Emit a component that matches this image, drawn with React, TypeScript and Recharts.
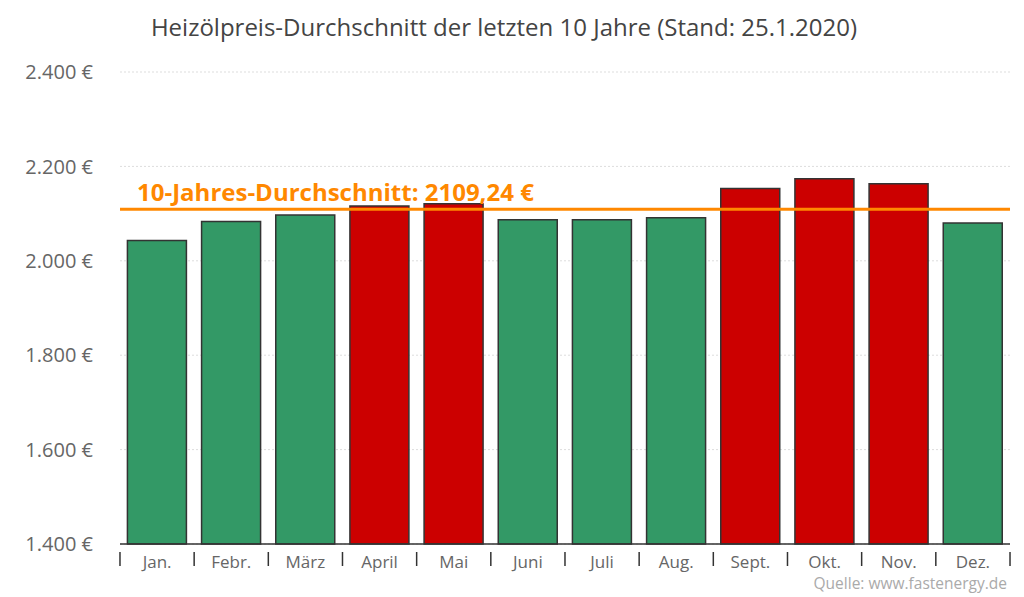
import React from "react";
import { BarChart, Bar, XAxis, YAxis, CartesianGrid, ReferenceLine, Cell } from "recharts";

const months = ["Jan.", "Febr.", "März", "April", "Mai", "Juni", "Juli", "Aug.", "Sept.", "Okt.", "Nov.", "Dez."];
const prices = [2043, 2083, 2097, 2116, 2121, 2087, 2087, 2091, 2153, 2174, 2163, 2080];
const average = 2109.24;
const yTicks = [1400, 1600, 1800, 2000, 2200, 2400];

const data = months.map((m, i) => ({ month: m, price: prices[i] }));

const FONT = "'Open Sans', 'Noto Sans', sans-serif";
const GREEN = "#339966";
const RED = "#cc0000";

const fmtEuro = (v: number) => v.toLocaleString("de-DE") + " €";

const XTick = (props: any) => {
  const { x, y, payload, index } = props;
  const half = 74.2 / 2;
  const axisY = y;
  return (
    <g>
      <line x1={x - half} x2={x - half} y1={axisY} y2={axisY + 14} stroke="#333" strokeWidth={1.5} />
      {index === months.length - 1 && (
        <line x1={x + half} x2={x + half} y1={axisY} y2={axisY + 14} stroke="#333" strokeWidth={1.5} />
      )}
      <text x={x} y={axisY + 16} textAnchor="middle" fill="#666" fontSize={17} fontFamily={FONT}>
        {payload.value}
      </text>
    </g>
  );
};

const RefLabel = (props: any) => {
  const { viewBox } = props;
  return (
    <text x={viewBox.x + 17} y={viewBox.y - 8} fill="#ff8800" fontSize={24} fontWeight={700} fontFamily={FONT}>
      {"10-Jahres-Durchschnitt: 2109,24 €"}
    </text>
  );
};

export default function App() {
  return (
    <div style={{ position: "absolute", left: 0, top: 0, width: 1024, height: 597, background: "#fff", fontFamily: FONT }}>
      <div
        style={{
          position: "absolute",
          left: 0,
          top: 10,
          width: 1008,
          textAlign: "center",
          fontSize: 24,
          color: "#444",
          fontFamily: FONT,
        }}
      >
        Heizölpreis-Durchschnitt der letzten 10 Jahre (Stand: 25.1.2020)
      </div>
      <div style={{ position: "absolute" }}>
        <BarChart
          width={1024}
          height={597}
          data={data}
          margin={{ top: 72, right: 14, bottom: 13, left: 0 }}
          barCategoryGap="10%"
        >
          <CartesianGrid vertical={false} stroke="#ddd" strokeDasharray="2 2" />
          <YAxis
            domain={[1400, 2400]}
            ticks={yTicks}
            width={120}
            axisLine={false}
            tickLine={false}
            tickSize={0}
            tickMargin={27}
            tickFormatter={fmtEuro}
            tick={{ fill: "#666", fontSize: 20, fontFamily: FONT }}
            interval={0}
          />
          <XAxis
            dataKey="month"
            height={40}
            axisLine={{ stroke: "#333", strokeWidth: 1.5 }}
            tickLine={false}
            tick={<XTick />}
            interval={0}
          />
          <Bar dataKey="price" stroke="#333" strokeWidth={1.5} isAnimationActive={false}>
            {data.map((d, i) => (
              <Cell key={i} fill={d.price > average ? RED : GREEN} />
            ))}
          </Bar>
          <ReferenceLine y={average} stroke="#ff8800" strokeWidth={3} label={<RefLabel />} ifOverflow="extendDomain" />
        </BarChart>
      </div>
      <div
        style={{
          position: "absolute",
          right: 17,
          top: 572,
          fontSize: 15.5,
          color: "#aaa",
          fontFamily: FONT,
        }}
      >
        Quelle: www.fastenergy.de
      </div>
    </div>
  );
}
